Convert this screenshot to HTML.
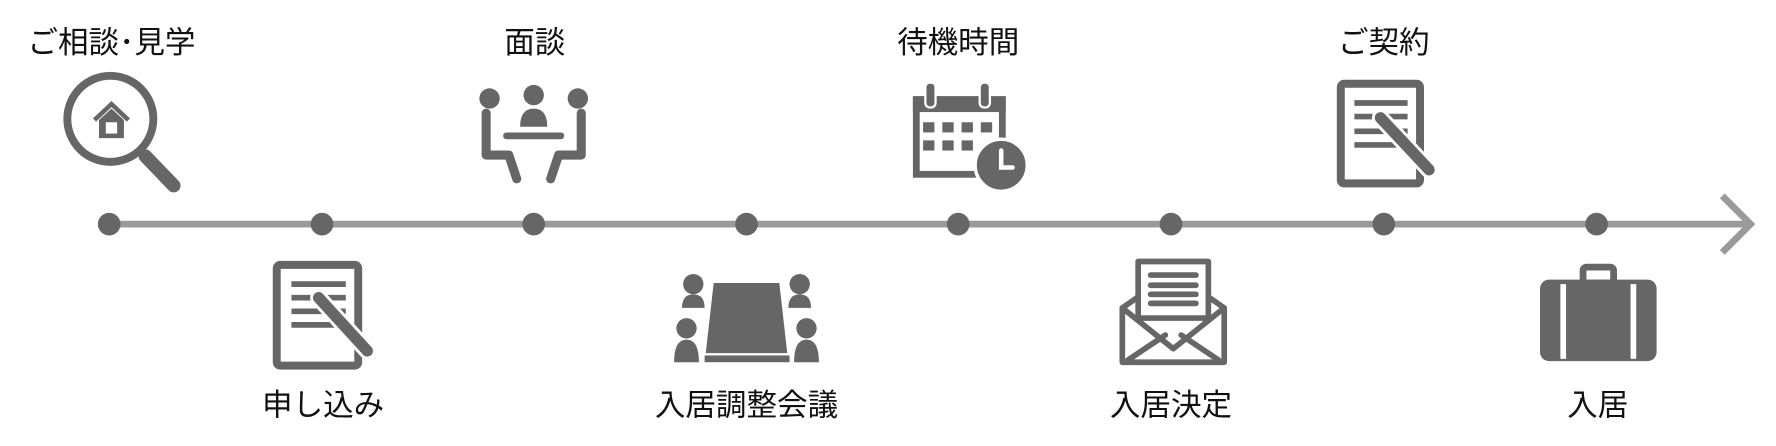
<!DOCTYPE html>
<html><head><meta charset="utf-8"><style>
html,body{margin:0;padding:0;background:#fff;}
svg{display:block}
text{font-family:"Liberation Sans","Noto Sans CJK JP",sans-serif;font-size:27px;fill:#111;text-anchor:middle}
</style></head><body>
<svg width="1776" height="446" viewBox="0 0 1568 394" xmlns="http://www.w3.org/2000/svg">
<line x1="96" y1="198" x2="1546" y2="198" stroke="#9a9a9a" stroke-width="6"/>
<polyline points="1521,173 1546,198 1521,223" fill="none" stroke="#9a9a9a" stroke-width="6"/>
<g fill="#666">
<circle cx="96" cy="198" r="10"/><circle cx="284" cy="198" r="10"/><circle cx="471" cy="198" r="10"/><circle cx="659" cy="198" r="10"/>
<circle cx="846" cy="198" r="10"/><circle cx="1034" cy="198" r="10"/><circle cx="1222" cy="198" r="10"/><circle cx="1410" cy="198" r="10"/>
</g>
<text x="98" y="47">ご相談･見学</text>
<text x="472" y="47">面談</text>
<text x="846" y="47">待機時間</text>
<text x="1222" y="47">ご契約</text>
<text x="285" y="367">申し込み</text>
<text x="659" y="367">入居調整会議</text>
<text x="1034" y="367">入居決定</text>
<text x="1411" y="367">入居</text>

<g>
<circle cx="97" cy="105" r="38" fill="none" stroke="#666" stroke-width="7"/>
<polyline points="83,106 98,92 113,106" fill="none" stroke="#666" stroke-width="4"/>
<path d="M87,106 L98,96 L109,106 L109,122 L87,122 Z" fill="#666"/>
<rect x="93" y="108" width="10" height="10" fill="#fff"/>
<line x1="128" y1="138" x2="153" y2="164" stroke="#666" stroke-width="12" stroke-linecap="round"/>
</g>

<g fill="#666">
<circle cx="432" cy="87" r="9"/><circle cx="471" cy="84" r="9"/><circle cx="510" cy="87" r="9"/>
<path d="M459,112 Q459,96 471,96 Q483,96 483,112 Z"/>
<line x1="447" y1="120" x2="495" y2="120" stroke="#666" stroke-width="6" stroke-linecap="round"/>
<path d="M429,100 L429,137 L449,137 L456,158" fill="none" stroke="#666" stroke-width="8" stroke-linecap="round" stroke-linejoin="round"/>
<path d="M513,100 L513,137 L493,137 L486,158" fill="none" stroke="#666" stroke-width="8" stroke-linecap="round" stroke-linejoin="round"/>
</g>

<g>
<rect x="809" y="88" width="76" height="66" fill="none" stroke="#666" stroke-width="6"/>
<rect x="806" y="85" width="82" height="14" fill="#666"/>
<rect x="817" y="73" width="9" height="22" rx="4" fill="#666" stroke="#fff" stroke-width="2"/>
<rect x="865" y="73" width="9" height="22" rx="4" fill="#666" stroke="#fff" stroke-width="2"/>
<g fill="#666">
<rect x="815" y="108" width="10" height="9"/><rect x="832" y="108" width="10" height="9"/><rect x="849" y="108" width="10" height="9"/><rect x="866" y="108" width="10" height="9"/>
<rect x="815" y="124" width="10" height="9"/><rect x="832" y="124" width="10" height="9"/><rect x="849" y="124" width="10" height="9"/>
</g>
<circle cx="884" cy="146" r="23" fill="#666" stroke="#fff" stroke-width="3"/>
<polyline points="884,133 884,148 894,148" fill="none" stroke="#fff" stroke-width="4" stroke-linecap="round"/>
</g>

<g>
<rect x="1184" y="74" width="70" height="88" rx="3" fill="none" stroke="#666" stroke-width="7"/>
<g stroke="#666" stroke-width="5">
<line x1="1196" y1="91" x2="1243" y2="91"/><line x1="1196" y1="103" x2="1243" y2="103"/><line x1="1196" y1="116" x2="1243" y2="116"/><line x1="1196" y1="128" x2="1243" y2="128"/>
</g>
<line x1="1219" y1="104" x2="1262" y2="150" stroke="#fff" stroke-width="15" stroke-linecap="round"/>
<line x1="1219" y1="104" x2="1262" y2="150" stroke="#666" stroke-width="10" stroke-linecap="round"/>
</g>

<g>
<rect x="244" y="234" width="72" height="89" rx="3" fill="none" stroke="#666" stroke-width="7"/>
<g stroke="#666" stroke-width="5">
<line x1="257" y1="251" x2="305" y2="251"/><line x1="257" y1="263" x2="305" y2="263"/><line x1="257" y1="275" x2="305" y2="275"/><line x1="257" y1="287" x2="305" y2="287"/>
</g>
<line x1="281" y1="263" x2="324" y2="310" stroke="#fff" stroke-width="15" stroke-linecap="round"/>
<line x1="281" y1="263" x2="324" y2="310" stroke="#666" stroke-width="10" stroke-linecap="round"/>
</g>

<g fill="#666">
<path d="M630,250 L688,250 L695,312 L623,312 Z"/>
<rect x="622" y="314" width="75" height="6"/>
<circle cx="612" cy="251" r="9"/><path d="M602,272 Q602,260 612,260 Q622,260 622,272 Z"/>
<circle cx="606" cy="290" r="9"/><path d="M595,320 Q595,300 606,300 Q617,300 617,320 Z"/>
<circle cx="706" cy="251" r="9"/><path d="M696,272 Q696,260 706,260 Q716,260 716,272 Z"/>
<circle cx="712" cy="290" r="9"/><path d="M701,320 Q701,300 712,300 Q723,300 723,320 Z"/>
</g>

<g fill="none" stroke="#666" stroke-width="5" stroke-linecap="round" stroke-linejoin="round">
<rect x="1005" y="231" width="62" height="50" fill="#fff"/>
<line x1="1016" y1="243" x2="1056" y2="243"/><line x1="1016" y1="252" x2="1056" y2="252"/><line x1="1016" y1="260" x2="1056" y2="260"/><line x1="1016" y1="268" x2="1056" y2="268"/>
<path d="M1004,263 L991,272 L991,320 L1081,320 L1081,272 L1068,263"/>
<path d="M991,272 L1036,308 L1081,272"/>
<line x1="996" y1="318" x2="1029" y2="296"/><line x1="1076" y1="318" x2="1043" y2="296"/>
</g>

<g>
<rect x="1398" y="236" width="27" height="14" rx="3" fill="none" stroke="#666" stroke-width="6"/>
<rect x="1360" y="247" width="103" height="72" rx="8" fill="#666"/>
<rect x="1378" y="251" width="5" height="66" fill="#fff"/>
<rect x="1440" y="251" width="5" height="66" fill="#fff"/>
</g>
</svg>
</body></html>
